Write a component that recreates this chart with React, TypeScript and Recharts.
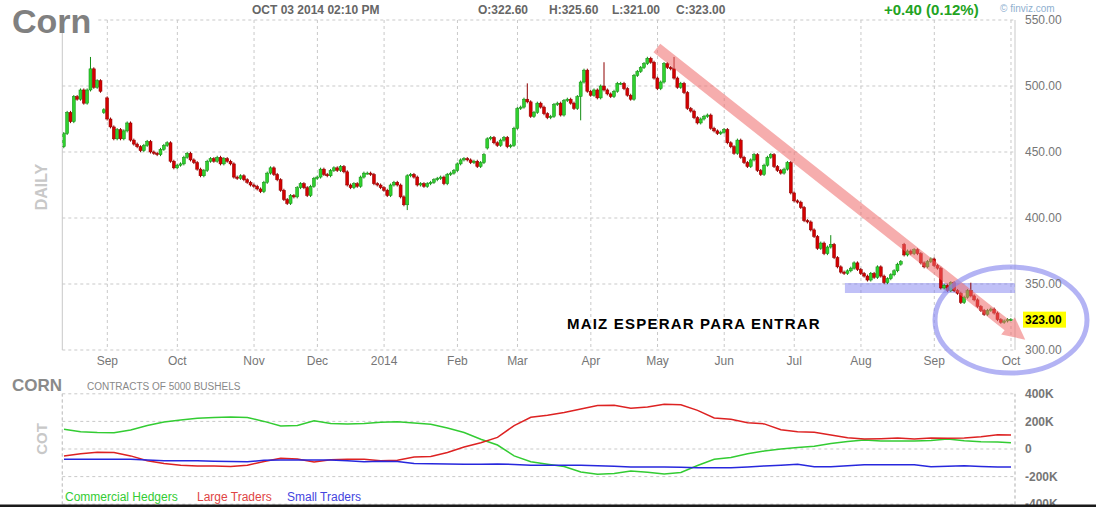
import React from 'react';
import {
  ComposedChart,
  LineChart,
  Line,
  Bar,
  XAxis,
  YAxis,
  CartesianGrid,
  ReferenceLine,
  ReferenceArea,
  ReferenceDot,
} from 'recharts';

// ---------- DATA ----------
// Daily closes (trading-day index 0 .. 284), Aug 2013 – Oct 3 2014
const closes = [
  464, 480, 473, 492, 490, 497, 487, 497, 513, 499, 504, 496, 482, 475, 469, 460, 467, 460, 466, 472,
  459, 456, 454, 451, 455, 458, 450, 449, 448, 452, 455, 457, 443, 438, 440, 441, 446, 449, 444, 442,
  437, 432, 436, 443, 445, 443, 446, 441, 445, 443, 441, 431, 430, 432, 429, 427, 425, 424, 422, 420,
  427, 434, 438, 433, 429, 421, 414, 411, 417, 416, 423, 426, 423, 417, 424, 430, 431, 437, 433, 432,
  436, 438, 436, 439, 435, 425, 423, 426, 424, 431, 434, 434, 433, 426, 425, 423, 421, 417, 425, 427,
  425, 416, 410, 432, 433, 431, 425, 426, 424, 426, 427, 429, 430, 431, 426, 433, 434, 436, 441, 444,
  445, 444, 442, 443, 439, 442, 448, 460, 461, 457, 455, 459, 461, 454, 455, 468, 483, 484, 490, 488,
  477, 480, 487, 484, 479, 476, 477, 486, 487, 478, 489, 490, 487, 483, 492, 503, 512, 496, 493, 497,
  491, 500, 497, 494, 492, 496, 502, 502, 498, 493, 490, 508, 511, 514, 517, 521, 518, 506, 498, 503,
  517, 514, 513, 506, 499, 502, 495, 483, 481, 476, 472, 475, 477, 478, 468, 466, 464, 465, 467, 457,
  454, 449, 459, 446, 442, 439, 444, 448, 436, 433, 440, 446, 448, 439, 436, 434, 437, 442, 419, 413,
  412, 408, 398, 397, 391, 386, 377, 381, 373, 378, 380, 370, 363, 359, 358, 360, 362, 366, 361, 358,
  356, 353, 358, 355, 363, 356, 351, 354, 357, 360, 365, 367, 372, 375, 373, 376, 373, 366, 363, 367,
  369, 364, 362, 347, 349, 345, 351, 345, 343, 336, 340, 345, 341, 338, 333, 330, 327, 330, 331, 328,
  323, 321, 322, 323, 323,
];
const firstOpen = 454;
// opens that differ from the previous close (gaps)
const gapOpens: Record<number, number> = { 12: 480, 13: 491, 127: 453, 252: 380 };
// notable wick extremes
const wickHighs: Record<number, number> = { 8: 522, 139: 502, 162: 518, 183: 522, 230: 387, 272: 351 };
const wickLows: Record<number, number> = { 103: 406, 155: 474 };

const monthIdx = [13, 34, 57, 76, 96, 118, 136, 158, 178, 198, 219, 239, 261, 284];
const monthLabels = ['Sep', 'Oct', 'Nov', 'Dec', '2014', 'Feb', 'Mar', 'Apr', 'May', 'Jun', 'Jul', 'Aug', 'Sep', 'Oct'];
const priceTicks = [300, 350, 400, 450, 500, 550];

// COT weekly (thousands of contracts)
const cotIdx = [
  0, 5, 10, 15, 20, 25, 30, 35, 40, 45, 50, 55, 60, 65, 70, 75, 80, 85, 90, 95, 100, 105, 110, 115, 120,
  125, 130, 135, 140, 145, 150, 155, 160, 165, 170, 175, 180, 185, 190, 195, 200, 205, 210, 215, 220, 225,
  230, 235, 240, 245, 250, 255, 260, 265, 270, 275, 280, 284,
];
const commercial = [
  143, 125, 120, 118, 138, 170, 195, 210, 222, 228, 232, 228, 200, 167, 170, 205, 185, 181, 185, 193,
  198, 188, 180, 152, 120, 71, 29, -50, -92, -110, -127, -167, -183, -178, -160, -168, -181, -170, -120, -75,
  -62, -35, -15, 0, 10, 20, 40, 55, 65, 58, 58, 58, 62, 72, 60, 53, 50, 46,
];
const largeTraders = [
  -51, -35, -24, -26, -50, -85, -105, -118, -123, -123, -127, -118, -90, -67, -72, -94, -78, -75, -75, -85,
  -82, -58, -55, -25, 14, 45, 84, 170, 230, 245, 265, 290, 315, 317, 295, 305, 325, 320, 280, 225,
  215, 190, 182, 140, 125, 121, 101, 82, 72, 75, 80, 72, 80, 78, 80, 89, 104, 101,
];
const smallTraders = [
  -75, -75, -75, -75, -75, -80, -85, -85, -85, -88, -90, -92, -82, -80, -80, -80, -80, -85, -92, -88,
  -90, -105, -106, -108, -110, -111, -108, -112, -118, -118, -118, -118, -121, -125, -130, -130, -130, -132, -135, -135,
  -135, -130, -123, -118, -111, -128, -128, -121, -114, -114, -114, -115, -128, -125, -121, -126, -130, -130,
];
const cotTicks = [-400, -200, 0, 200, 400];

// annotations (data coordinates)
const trendArrow = { fromIdx: 177.8, fromPrice: 528.8, toIdx: 283.1, toPrice: 318.2 };
const supportBand = { fromIdx: 234.2, toIdx: 285.2, low: 343.2, high: 350.8 };
const circleCenter = { idx: 284, price: 322.7 };

// ---------- BUILD ----------
const PRICE_MIN = 300;
const PRICE_MAX = 550;
const X_DOMAIN: [number, number] = [-0.5, 285.2];

const candles = closes.map((c, i) => {
  const o = gapOpens[i] ?? (i === 0 ? firstOpen : closes[i - 1]);
  const h = wickHighs[i] ?? null;
  const l = wickLows[i] ?? null;
  const top = Math.max(o, c, h ?? -Infinity);
  return { i, o, c, h, l, top };
});
const lastIdx = closes.length - 1;
const lastClose = closes[lastIdx];

const cotData = cotIdx.map((i, k) => ({
  i,
  com: commercial[k],
  large: largeTraders[k],
  small: smallTraders[k],
}));

const FONT = "Arial, 'Liberation Sans', Helvetica, sans-serif";
const GRID = '#c9c9c9';

const Candle = (props: any) => {
  const { x, y, width, height, payload } = props;
  if (x == null || y == null || !payload) return null;
  const top = Math.min(y, y + height);
  const h = Math.abs(height);
  const span = payload.top - PRICE_MIN;
  const k = span > 0 ? h / span : 0;
  const py = (v: number) => top + h - (v - PRICE_MIN) * k;
  const cx = x + width / 2;
  const up = payload.c >= payload.o;
  const bTop = py(Math.max(payload.o, payload.c));
  const bBot = py(Math.min(payload.o, payload.c));
  const wTop = payload.h != null ? py(payload.h) : bTop - 1.5;
  const wBot = payload.l != null ? py(payload.l) : bBot + 1.5;
  const edge = up ? '#128c12' : '#8e0000';
  const fill = up ? '#2fd12f' : '#d30000';
  return (
    <g>
      <line x1={cx} x2={cx} y1={wTop} y2={wBot} stroke={edge} strokeWidth={1} />
      <rect x={cx - 1.5} y={bTop} width={3} height={Math.max(1, bBot - bTop)} fill={fill} stroke={edge} strokeWidth={0.5} />
    </g>
  );
};

const ArrowShape = (p: any) => {
  const { x1, y1, x2, y2 } = p;
  if ([x1, y1, x2, y2].some((v) => v == null || isNaN(v))) return null;
  const dx = x2 - x1;
  const dy = y2 - y1;
  const len = Math.hypot(dx, dy) || 1;
  const ux = dx / len;
  const uy = dy / len;
  const nx = -uy;
  const ny = ux;
  const hw = 5.5;
  const hh = 11;
  const hl = 22;
  const pts = [
    [x1 + nx * hw, y1 + ny * hw],
    [x2 + nx * hw, y2 + ny * hw],
    [x2 + nx * hh, y2 + ny * hh],
    [x2 + ux * hl, y2 + uy * hl],
    [x2 - nx * hh, y2 - ny * hh],
    [x2 - nx * hw, y2 - ny * hw],
    [x1 - nx * hw, y1 - ny * hw],
  ];
  return <polygon points={pts.map((q) => q.join(',')).join(' ')} fill="#ee6a6a" fillOpacity={0.55} />;
};

const EllipseShape = (p: any) => {
  const { cx, cy } = p;
  if (cx == null || cy == null) return null;
  return <ellipse cx={cx} cy={cy} rx={76} ry={53} fill="none" stroke="#8a8aee" strokeOpacity={0.65} strokeWidth={5} />;
};

const PriceTag = (p: any) => {
  const { cx, cy } = p;
  if (cx == null || cy == null) return null;
  return (
    <g>
      <rect x={cx + 12} y={cy - 8} width={43} height={16} fill="#ffff00" />
      <text x={cx + 14} y={cy + 4.5} fontSize={12} fontWeight="bold" fill="#000" fontFamily={FONT}>
        {lastClose.toFixed(2)}
      </text>
    </g>
  );
};

const axisTick = { fill: '#767676', fontSize: 12, fontFamily: FONT };

export default function App() {
  return (
    <div
      style={{
        position: 'fixed',
        left: 0,
        top: 0,
        width: 1096,
        height: 507,
        background: '#fff',
        overflow: 'hidden',
        fontFamily: FONT,
      }}
    >
      <div style={{ position: 'absolute', left: 0, top: 0 }}>
        <ComposedChart width={1096} height={380} data={candles} margin={{ top: 20, right: 0, bottom: 0, left: 62.3 }}>
          <CartesianGrid stroke={GRID} strokeDasharray="3 3" />
          <XAxis
            dataKey="i"
            type="number"
            domain={X_DOMAIN}
            allowDataOverflow
            ticks={monthIdx}
            interval={0}
            tickFormatter={(v: number) => monthLabels[monthIdx.indexOf(v)] ?? ''}
            axisLine={false}
            tickLine={false}
            tickSize={0}
            tickMargin={6}
            height={30}
            tick={axisTick}
          />
          <YAxis
            orientation="right"
            domain={[PRICE_MIN, PRICE_MAX]}
            ticks={priceTicks}
            interval={0}
            tickFormatter={(v: number) => v.toFixed(2)}
            axisLine={false}
            tickLine={false}
            tickSize={0}
            tickMargin={10}
            width={81}
            tick={axisTick}
            allowDataOverflow
          />
          <ReferenceLine x={X_DOMAIN[0]} stroke={GRID} strokeDasharray="3 3" />
          <ReferenceLine x={X_DOMAIN[1]} stroke={GRID} strokeDasharray="3 3" />
          <Bar dataKey={(d: any) => [PRICE_MIN, d.top]} barSize={3} shape={Candle} isAnimationActive={false} />
          <ReferenceArea
            x1={supportBand.fromIdx}
            x2={supportBand.toIdx}
            y1={supportBand.low}
            y2={supportBand.high}
            fill="#7474ee"
            fillOpacity={0.45}
            stroke="none"
            ifOverflow="visible"
          />
          <ReferenceLine
            segment={[
              { x: trendArrow.fromIdx, y: trendArrow.fromPrice },
              { x: trendArrow.toIdx, y: trendArrow.toPrice },
            ]}
            shape={ArrowShape}
            ifOverflow="visible"
          />
          <ReferenceDot x={circleCenter.idx} y={circleCenter.price} shape={EllipseShape} ifOverflow="visible" />
          <ReferenceDot x={lastIdx} y={lastClose} shape={PriceTag} ifOverflow="visible" />
        </ComposedChart>
      </div>

      <div style={{ position: 'absolute', left: 0, top: 380 }}>
        <LineChart width={1096} height={127} data={cotData} margin={{ top: 13.8, right: 0, bottom: 2.8, left: 62.3 }}>
          <CartesianGrid stroke={GRID} strokeDasharray="3 3" />
          <XAxis
            dataKey="i"
            type="number"
            domain={X_DOMAIN}
            allowDataOverflow
            ticks={monthIdx}
            interval={0}
            height={0}
            tick={false}
            axisLine={false}
            tickLine={false}
          />
          <YAxis
            orientation="right"
            domain={[-400, 400]}
            ticks={cotTicks}
            interval={0}
            tickFormatter={(v: number) => (v === 0 ? '0' : `${v}K`)}
            axisLine={false}
            tickLine={false}
            tickSize={0}
            tickMargin={10}
            width={81}
            tick={{ ...axisTick, fontWeight: 'bold' }}
          />
          <ReferenceLine x={X_DOMAIN[0]} stroke={GRID} strokeDasharray="3 3" />
          <ReferenceLine x={X_DOMAIN[1]} stroke={GRID} strokeDasharray="3 3" />
          <Line dataKey="com" stroke="#33cc33" strokeWidth={1.5} dot={false} isAnimationActive={false} />
          <Line dataKey="large" stroke="#dd2222" strokeWidth={1.5} dot={false} isAnimationActive={false} />
          <Line dataKey="small" stroke="#2727dd" strokeWidth={1.5} dot={false} isAnimationActive={false} />
        </LineChart>
      </div>

      <svg
        width={1096}
        height={507}
        style={{ position: 'absolute', left: 0, top: 0, pointerEvents: 'none' }}
        fontFamily={FONT}
      >
        <rect x={0} y={0} width={98} height={33} fill="#fff" />
        <text x={12} y={33} fontSize={34} fontWeight="bold" fill="#808080">Corn</text>
        <text x={252} y={14} fontSize={12} fontWeight="bold" fill="#666">OCT 03 2014 02:10 PM</text>
        <text x={478} y={14} fontSize={12} fontWeight="bold" fill="#666">O:322.60</text>
        <text x={549} y={14} fontSize={12} fontWeight="bold" fill="#666">H:325.60</text>
        <text x={612} y={14} fontSize={12} fontWeight="bold" fill="#666">L:321.00</text>
        <text x={676} y={14} fontSize={12} fontWeight="bold" fill="#666">C:323.00</text>
        <text x={884} y={15} fontSize={15} fontWeight="bold" fill="#22a322">+0.40 (0.12%)</text>
        <text x={1000} y={12} fontSize={10} fill="#8fb0d0">© finviz.com</text>
        <text
          x={47}
          y={187}
          fontSize={16}
          fontWeight="bold"
          fill="#c8c8c8"
          textAnchor="middle"
          transform="rotate(-90 47 187)"
        >
          DAILY
        </text>
        <text x={567} y={328.5} fontSize={15} fontWeight="bold" fill="#000" letterSpacing={1.2}>
          MAIZ ESPERAR PARA ENTRAR
        </text>
        <text x={12} y={390.5} fontSize={17} fontWeight="bold" fill="#8a8a8a">CORN</text>
        <text x={87} y={389.5} fontSize={10} fill="#888">CONTRACTS OF 5000 BUSHELS</text>
        <text
          x={47}
          y={439}
          fontSize={15}
          fontWeight="bold"
          fill="#c8c8c8"
          textAnchor="middle"
          transform="rotate(-90 47 439)"
        >
          COT
        </text>
        <text x={65} y={501} fontSize={12} fill="#33cc33">Commercial Hedgers</text>
        <text x={197} y={501} fontSize={12} fill="#e04545">Large Traders</text>
        <text x={287} y={501} fontSize={12} fill="#4545e0">Small Traders</text>
        <rect x={0} y={504.5} width={1096} height={3} fill="#1a1a1a" />
      </svg>
    </div>
  );
}
